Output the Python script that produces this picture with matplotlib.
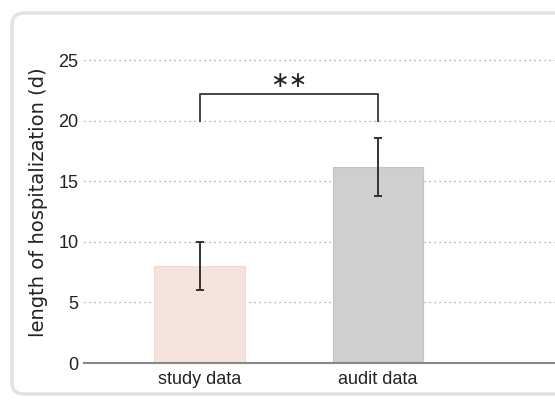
import matplotlib.pyplot as plt
from matplotlib.patches import FancyBboxPatch
from matplotlib.transforms import IdentityTransform

categories = ['study data', 'audit data']
means = [8.0, 16.2]
errors = [2.0, 2.4]
bar_colors = ['#f4e3db', '#cfcfcf']
edge_colors = ['#eedad0', '#c4c4c4']
yticks = [0, 5, 10, 15, 20, 25]

plt.rcParams['font.family'] = ['Liberation Sans', 'DejaVu Sans']

fig = plt.figure(figsize=(5.55, 4.0), dpi=100)

# rounded frame around the chart (pixel coords)
frame = FancyBboxPatch((12, 6), 600, 381, transform=IdentityTransform(),
                       boxstyle='round,pad=0,rounding_size=12',
                       facecolor='white', edgecolor='#e2e2e2', linewidth=2.5, zorder=-1)
fig.patches.append(frame)

ax = fig.add_axes([84 / 555, 37 / 400, 471 / 555, 315 / 400])
ax.set_facecolor('none')

x = [0, 1]
ax.bar(x, means, width=0.505, color=bar_colors, edgecolor=edge_colors, linewidth=0.8, zorder=2)
ax.errorbar(x, means, yerr=errors, fmt='none', ecolor='#333333', elinewidth=1.4,
            capsize=3, capthick=1.4, zorder=3)

# significance bracket
ax.plot([0, 0, 1, 1], [20, 22.2, 22.2, 20], color='#444444', lw=1.4, zorder=3)
ax.text(0.5, 23.3, '\u2217\u2217', ha='center', va='center', fontsize=16,
        color='#222222', family=['DejaVu Sans'])

ax.set_xlim(-0.647, 1.99)
ax.set_ylim(0, 26)
ax.set_yticks(yticks)
ax.set_xticks(x)
ax.set_xticklabels(categories)
ax.yaxis.grid(True, linestyle=(0, (1, 3)), color='#999999', linewidth=0.9, zorder=0)
ax.set_axisbelow(True)
ax.tick_params(length=0, labelsize=13, colors='#222222')
ax.tick_params(axis='y', pad=4)
ax.tick_params(axis='x', pad=6)
for s in ['left', 'right', 'top']:
    ax.spines[s].set_visible(False)
ax.spines['bottom'].set_color('#888888')
ax.spines['bottom'].set_linewidth(1.5)
ax.set_ylabel('length of hospitalization (d)', fontsize=14, color='#222222',
              family=['DejaVu Sans'])
ax.yaxis.set_label_coords(-0.0764, 0.511)

fig.savefig('out.png', dpi=100)
